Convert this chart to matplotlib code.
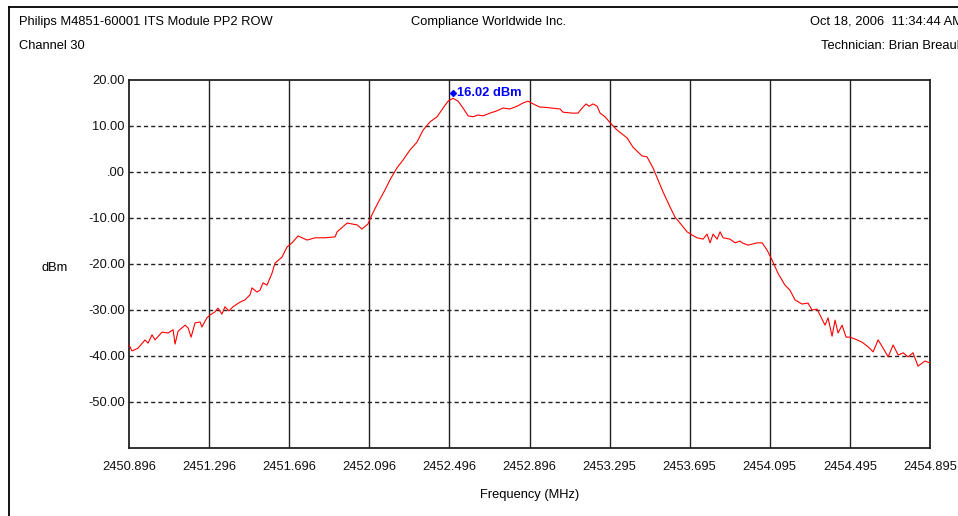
import matplotlib
matplotlib.use("Agg")
import matplotlib.pyplot as plt
import matplotlib.transforms as mtransforms
from matplotlib.lines import Line2D

plt.rcParams['font.family'] = ['Liberation Sans', 'DejaVu Sans']

# spectrum trace
freq_mhz = [
    2450.896, 2450.911, 2450.941, 2450.976, 2450.991, 2451.011, 2451.026, 2451.061,
    2451.091, 2451.116, 2451.126, 2451.141, 2451.176, 2451.191, 2451.206, 2451.226,
    2451.251, 2451.260, 2451.285, 2451.300, 2451.325, 2451.340, 2451.360, 2451.375,
    2451.395, 2451.415, 2451.450, 2451.475, 2451.500, 2451.510, 2451.535, 2451.550,
    2451.565, 2451.585, 2451.610, 2451.625, 2451.660, 2451.685, 2451.710, 2451.740,
    2451.785, 2451.825, 2451.875, 2451.925, 2451.935, 2451.985, 2452.010, 2452.035,
    2452.059, 2452.089, 2452.109, 2452.139, 2452.174, 2452.199, 2452.234, 2452.264,
    2452.299, 2452.334, 2452.364, 2452.399, 2452.434, 2452.464, 2452.489, 2452.514,
    2452.539, 2452.564, 2452.589, 2452.614, 2452.639, 2452.663, 2452.698, 2452.733,
    2452.763, 2452.798, 2452.833, 2452.863, 2452.888, 2452.923, 2452.948, 2452.963,
    2453.008, 2453.048, 2453.063, 2453.108, 2453.138, 2453.158, 2453.178, 2453.193,
    2453.213, 2453.233, 2453.248, 2453.273, 2453.298, 2453.333, 2453.383, 2453.412,
    2453.457, 2453.482, 2453.512, 2453.537, 2453.562, 2453.597, 2453.622, 2453.647,
    2453.682, 2453.707, 2453.732, 2453.762, 2453.782, 2453.797, 2453.812, 2453.832,
    2453.847, 2453.862, 2453.897, 2453.922, 2453.947, 2453.957, 2453.987, 2454.032,
    2454.057, 2454.082, 2454.106, 2454.136, 2454.171, 2454.196, 2454.221, 2454.256,
    2454.286, 2454.306, 2454.331, 2454.356, 2454.371, 2454.386, 2454.406, 2454.421,
    2454.436, 2454.456, 2454.476, 2454.496, 2454.531, 2454.556, 2454.586, 2454.611,
    2454.636, 2454.661, 2454.686, 2454.711, 2454.736, 2454.761, 2454.786, 2454.810,
    2454.835, 2454.870, 2454.895,
]
level_dbm = [
    -37.6, -38.9, -38.3, -36.5, -37.2, -35.4, -36.5, -34.8,
    -35.0, -34.3, -37.4, -34.6, -33.3, -33.9, -35.9, -32.8,
    -32.6, -33.7, -31.7, -31.1, -30.4, -29.6, -30.9, -29.3,
    -30.2, -29.3, -28.3, -27.8, -26.7, -25.2, -26.1, -25.7,
    -24.1, -24.6, -22.0, -19.8, -18.5, -16.3, -15.4, -13.9,
    -14.8, -14.3, -14.3, -14.1, -13.0, -11.1, -11.3, -11.5,
    -12.4, -11.3, -9.3, -6.7, -3.9, -1.7, 0.9, 2.6,
    4.8, 6.5, 9.1, 10.9, 12.0, 13.9, 15.4, 16.02,
    15.4, 13.9, 12.2, 12.0, 12.4, 12.2, 12.8, 13.3,
    13.9, 13.7, 14.3, 15.0, 15.4, 14.6, 14.1, 14.1,
    13.9, 13.7, 13.0, 12.8, 12.8, 13.9, 14.8, 14.3,
    14.8, 14.3, 12.8, 12.0, 10.7, 9.1, 7.4, 5.4,
    3.5, 3.3, 0.9, -1.7, -4.3, -7.6, -9.8, -11.1,
    -13.0, -13.7, -14.3, -14.6, -13.5, -15.4, -13.5, -14.6,
    -13.0, -14.3, -14.6, -15.4, -15.0, -15.4, -15.9, -15.4,
    -15.4, -17.0, -19.1, -22.0, -24.6, -25.7, -27.8, -28.7,
    -28.5, -30.0, -29.8, -32.0, -33.3, -31.7, -35.7, -32.2,
    -35.0, -33.3, -35.9, -35.9, -36.5, -37.0, -38.0, -39.1,
    -36.5, -38.3, -40.2, -37.6, -39.8, -39.3, -40.2, -39.3,
    -42.2, -41.1, -41.5,
]

x_ticks = [2450.896, 2451.296, 2451.696, 2452.096, 2452.496, 2452.896,
           2453.295, 2453.695, 2454.095, 2454.495, 2454.895]
x_tick_labels = ["2450.896", "2451.296", "2451.696", "2452.096", "2452.496", "2452.896",
                 "2453.295", "2453.695", "2454.095", "2454.495", "2454.895"]
y_ticks = [20, 10, 0, -10, -20, -30, -40, -50]
y_tick_labels = ["20.00", "10.00", ".00", "-10.00", "-20.00", "-30.00", "-40.00", "-50.00"]

peak_f = 2452.514
peak_v = 16.02

FS = 9.25
W, H = 958, 516
fig = plt.figure(figsize=(W / 100, H / 100), dpi=100)
ax = fig.add_axes([129 / W, 1 - 448 / H, (930 - 129) / W, (448 - 80) / H])

ax.set_xlim(x_ticks[0], x_ticks[-1])
ax.set_ylim(-60, 20)

for xt in x_ticks[1:-1]:
    ax.axvline(xt, color="#222222", lw=1.0, zorder=1)
for yt in y_ticks[1:]:
    ax.axhline(yt, color="#222222", lw=1.0, ls=(0, (3, 2.2)), zorder=1)

ax.plot(freq_mhz, level_dbm, color="#ff0000", lw=0.8, zorder=3)

# peak marker, drawn a few points above the trace like the analyzer does
mk_tr = mtransforms.offset_copy(ax.transData, fig=fig, x=0, y=3.5, units="points")
ax.plot([peak_f], [peak_v], marker="D", ms=3, color="#0000ff", transform=mk_tr, zorder=4)
txt_tr = mtransforms.offset_copy(ax.transData, fig=fig, x=3, y=4, units="points")
ax.text(peak_f, peak_v, "16.02 dBm", color="#0000ff", fontweight="bold", fontsize=FS,
        ha="left", va="center", transform=txt_tr, zorder=4)

ax.set_xticks(x_ticks)
ax.set_xticklabels(x_tick_labels)
ax.set_yticks(y_ticks)
ax.set_yticklabels(y_tick_labels)
ax.tick_params(axis="both", length=0, labelsize=FS, colors="#111111")
ax.tick_params(axis="x", pad=9)
ax.tick_params(axis="y", pad=3)
for s in ax.spines.values():
    s.set_color("#222222")
    s.set_linewidth(1.3)

ax.set_xlabel("Frequency (MHz)", fontsize=FS, labelpad=12)
fig.text(55 / W, 1 - 268 / H, "dBm", fontsize=FS, ha="center", va="center")

# header texts (right ones run off the edge, same as the screenshot)
fig.text(19 / W, 1 - 22 / H, "Philips M4851-60001 ITS Module PP2 ROW", fontsize=FS, va="center")
fig.text(19 / W, 1 - 46 / H, "Channel 30", fontsize=FS, va="center")
fig.text(489 / W, 1 - 22 / H, "Compliance Worldwide Inc.", fontsize=FS, va="center", ha="center")
fig.text(963 / W, 1 - 22 / H, "Oct 18, 2006  11:34:44 AM", fontsize=FS, va="center", ha="right")
fig.text(963 / W, 1 - 46 / H, "Technician: Brian Breault", fontsize=FS, va="center", ha="right")

# outer frame (top and left edges visible)
fig.add_artist(Line2D([9 / W, 1], [1 - 7 / H, 1 - 7 / H], color="#000000", lw=1.3))
fig.add_artist(Line2D([9 / W, 9 / W], [0, 1 - 7 / H], color="#000000", lw=1.3))

fig.savefig("out.png", dpi=100)
